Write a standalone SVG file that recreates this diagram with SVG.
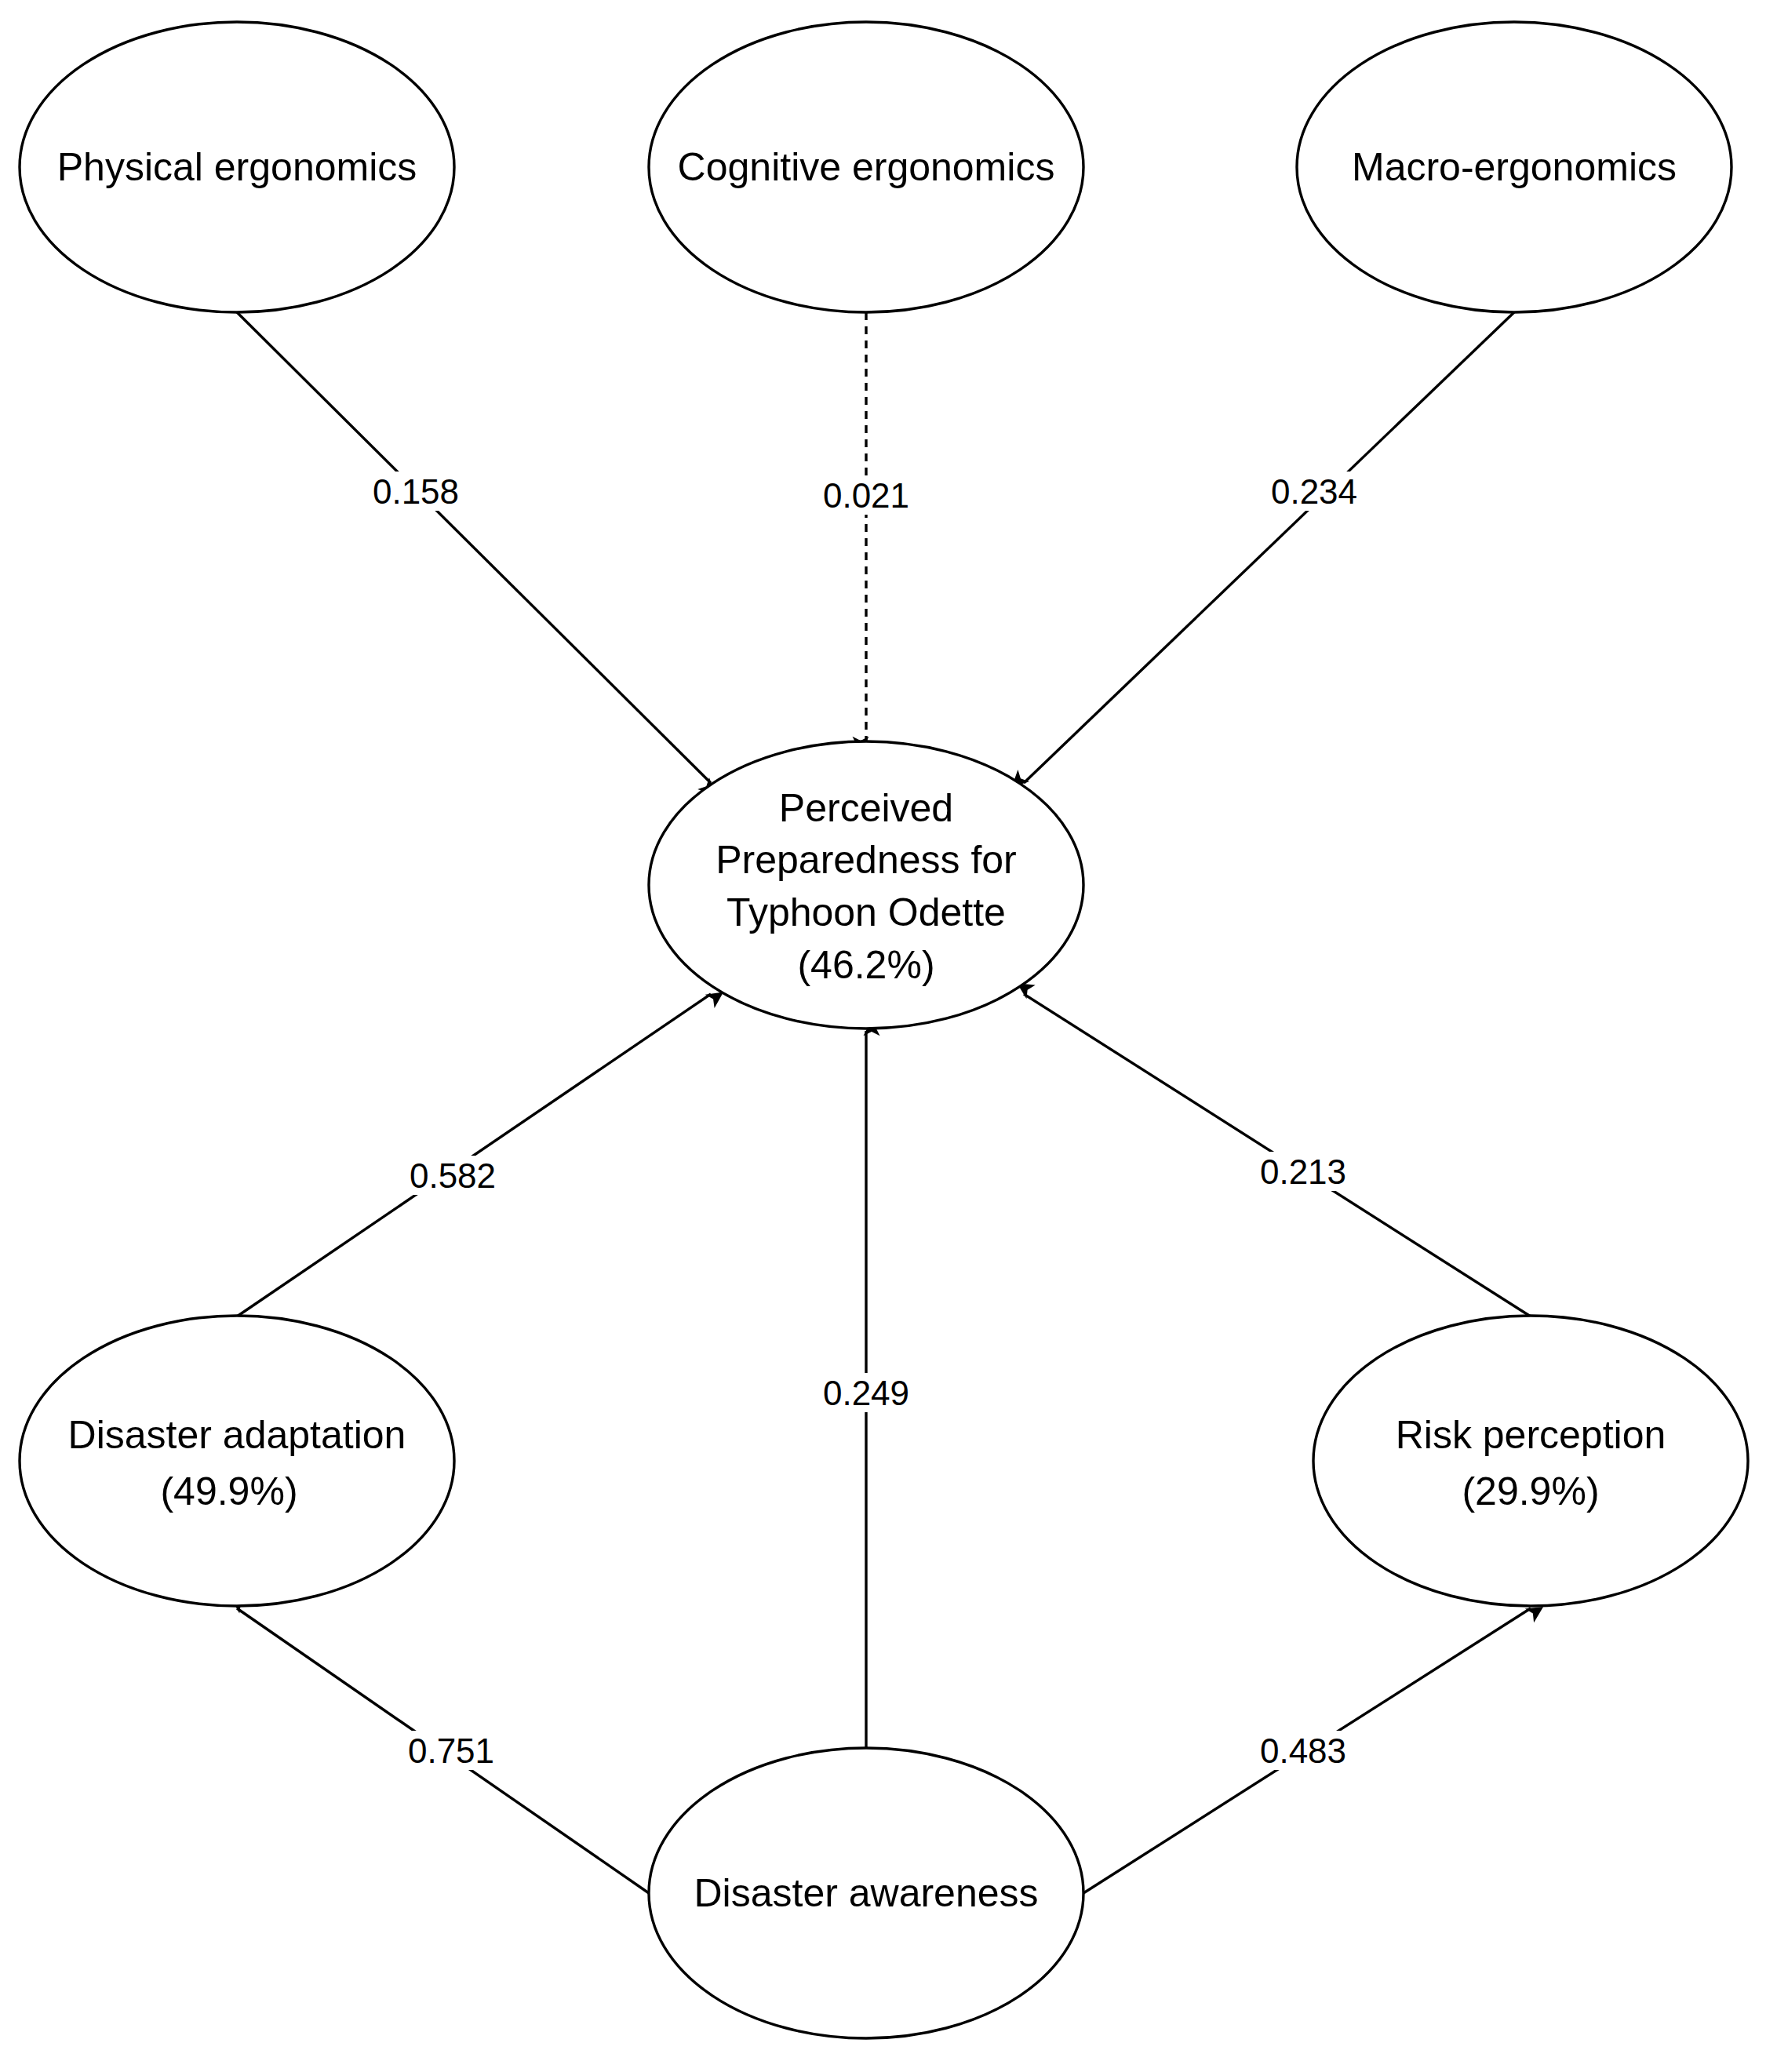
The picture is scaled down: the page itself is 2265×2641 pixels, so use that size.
<svg xmlns="http://www.w3.org/2000/svg" width="2265" height="2641" viewBox="0 0 2265 2641">
<style>
.n{fill:#fff;stroke:#000;stroke-width:3.4}
.t{font-family:"Liberation Sans",Arial,sans-serif;font-size:50px;text-anchor:middle;dominant-baseline:central;fill:#000}
.e{stroke:#000;stroke-width:3.4;fill:none;marker-end:url(#a)}
.l{font-family:"Liberation Sans",Arial,sans-serif;font-size:44px;text-anchor:middle;dominant-baseline:central;fill:#000}
.b{fill:#fff}
</style>
<defs><marker id="a" viewBox="0 0 10 10" refX="9" refY="5" markerWidth="7" markerHeight="7" markerUnits="userSpaceOnUse" orient="auto" style="overflow:visible"><path d="M0,0 L10,5 L0,10 L2.5,5 Z" fill="#000" transform="scale(3)" /></marker></defs>
<rect width="2265" height="2641" fill="#fff"/>
<g id="connectors">
<line class="e" x1="302" y1="398" x2="906" y2="998"/>
<line class="e" x1="1104" y1="398" x2="1104" y2="945" stroke-dasharray="10,8"/>
<line class="e" x1="1930" y1="398" x2="1305" y2="998"/>
<line class="e" x1="302" y1="1678" x2="906" y2="1267"/>
<line class="e" x1="1104" y1="2231" x2="1104" y2="1314"/>
<line class="e" x1="1951" y1="1678" x2="1305" y2="1267"/>
<line class="e" x1="827" y1="2413" x2="302" y2="2050"/>
<line class="e" x1="1381" y1="2413" x2="1951" y2="2050"/>
<rect class="b" x="465" y="601" width="130" height="50"/><text class="l" x="530" y="626">0.158</text>
<rect class="b" x="1039" y="606" width="130" height="50"/><text class="l" x="1104" y="631">0.021</text>
<rect class="b" x="1610" y="601" width="130" height="50"/><text class="l" x="1675" y="626">0.234</text>
<rect class="b" x="512" y="1473" width="130" height="50"/><text class="l" x="577" y="1498">0.582</text>
<rect class="b" x="1039" y="1750" width="130" height="50"/><text class="l" x="1104" y="1775">0.249</text>
<rect class="b" x="1596" y="1468" width="130" height="50"/><text class="l" x="1661" y="1493">0.213</text>
<rect class="b" x="510" y="2206" width="130" height="50"/><text class="l" x="575" y="2231">0.751</text>
<rect class="b" x="1596" y="2206" width="130" height="50"/><text class="l" x="1661" y="2231">0.483</text>
</g>
<g id="physical"><ellipse class="n" cx="302" cy="213" rx="277" ry="185"/><text class="t" x="302" y="213">Physical ergonomics</text></g>
<g id="cognitive"><ellipse class="n" cx="1104" cy="213" rx="277" ry="185"/><text class="t" x="1104" y="213">Cognitive ergonomics</text></g>
<g id="macro"><ellipse class="n" cx="1930" cy="213" rx="277" ry="185"/><text class="t" x="1930" y="213">Macro-ergonomics</text></g>
<g id="perceived"><ellipse class="n" cx="1104" cy="1128" rx="277" ry="183"/><text class="t" x="1104" y="1030">Perceived</text><text class="t" x="1104" y="1096">Preparedness for</text><text class="t" x="1104" y="1163">Typhoon Odette</text><text class="t" x="1104" y="1230">(46.2%)</text></g>
<g id="adaptation"><ellipse class="n" cx="302" cy="1862" rx="277" ry="185"/><text class="t" x="302" y="1829">Disaster adaptation</text><text class="t" x="292" y="1901">(49.9%)</text></g>
<g id="risk"><ellipse class="n" cx="1951" cy="1862" rx="277" ry="185"/><text class="t" x="1951" y="1829">Risk perception</text><text class="t" x="1951" y="1901">(29.9%)</text></g>
<g id="awareness"><ellipse class="n" cx="1104" cy="2413" rx="277" ry="185"/><text class="t" x="1104" y="2413">Disaster awareness</text></g>
</svg>
